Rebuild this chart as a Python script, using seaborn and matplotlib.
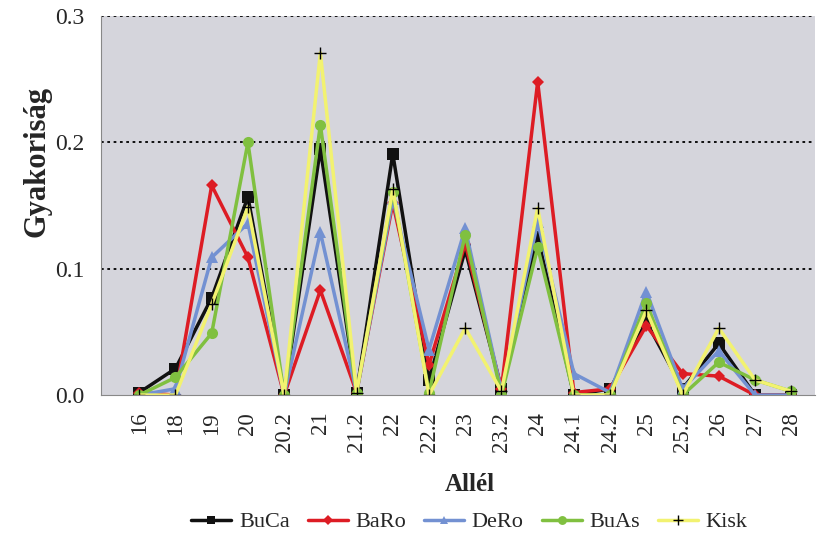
import pandas as pd
import matplotlib.pyplot as plt
import seaborn as sns

alleles = ['16', '18', '19', '20', '20.2', '21', '21.2', '22', '22.2', '23',
           '23.2', '24', '24.1', '24.2', '25', '25.2', '26', '27', '28']

buca = [0.002, 0.021, 0.077, 0.157, 0.0, 0.195, 0.002, 0.191, 0.012, 0.115,
        0.005, 0.125, 0.0, 0.005, 0.058, 0.005, 0.041, 0.0, 0.0]
baro = [0.002, 0.0, 0.166, 0.109, 0.0, 0.083, 0.002, 0.152, 0.024, 0.120,
        0.005, 0.248, 0.002, 0.005, 0.055, 0.017, 0.015, 0.0, 0.0]
dero = [0.0, 0.005, 0.109, 0.136, 0.0, 0.129, 0.002, 0.155, 0.036, 0.132,
        0.003, 0.137, 0.017, 0.002, 0.082, 0.005, 0.035, 0.0, 0.0]
buas = [0.0, 0.014, 0.049, 0.200, 0.0, 0.214, 0.002, 0.161, 0.002, 0.127,
        0.0, 0.117, 0.0, 0.0, 0.073, 0.0, 0.026, 0.012, 0.003]
kisk = [0.0, 0.0, 0.072, 0.149, 0.0, 0.271, 0.002, 0.163, 0.0, 0.053,
        0.003, 0.148, 0.0, 0.0, 0.067, 0.0, 0.053, 0.012, 0.003]

series = {'BuCa': buca, 'BaRo': baro, 'DeRo': dero, 'BuAs': buas, 'Kisk': kisk}
colors = {'BuCa': '#111111', 'BaRo': '#dd1c24', 'DeRo': '#7391d2',
          'BuAs': '#80c040', 'Kisk': '#f2f270'}
markers = {'BuCa': 's', 'BaRo': 'D', 'DeRo': '^', 'BuAs': 'o', 'Kisk': '+'}
sizes = {'BuCa': 8, 'BaRo': 6, 'DeRo': 8, 'BuAs': 8, 'Kisk': 9}

rows = []
for name, vals in series.items():
    for i, v in enumerate(vals):
        rows.append({'pos': i, 'Allél': alleles[i], 'Gyakoriság': v, 'pop': name})
df = pd.DataFrame(rows)

sns.set_style('white')
plt.rcParams['font.family'] = ['Liberation Serif', 'DejaVu Serif']

fig = plt.figure(figsize=(8.23, 5.39), dpi=100)
ax = fig.add_axes([0.123, 0.267, 0.867, 0.703])
ax.set_facecolor('#d5d5dc')

# one line per population
for name in series:
    sub = df[df['pop'] == name]
    sns.lineplot(data=sub, x='pos', y='Gyakoriság', ax=ax, color=colors[name],
                 marker=markers[name], markersize=sizes[name], linewidth=2.5,
                 markeredgewidth=1.0 if name == 'Kisk' else 0,
                 markeredgecolor='black' if name == 'Kisk' else colors[name],
                 label=name)

ax.set_xlim(-1.05, 18.65)
ax.set_ylim(0, 0.3)
ax.set_yticks([0.0, 0.1, 0.2, 0.3])
ax.set_yticklabels(['0.0', '0.1', '0.2', '0.3'], fontsize=17)
ax.set_xticks(range(len(alleles)))
ax.set_xticklabels(alleles, rotation=90, fontsize=16.5)
ax.tick_params(axis='x', direction='inout', length=12, pad=6, color='#888888', width=0.8)
ax.tick_params(axis='y', direction='out', length=7, pad=5, color='#888888', width=0.8)

for y in [0.1, 0.2, 0.3]:
    ax.axhline(y, color='black', linestyle=(0, (1.5, 2)), linewidth=1.3, zorder=0.5)

for s in ['top', 'right']:
    ax.spines[s].set_visible(False)
for s in ['left', 'bottom']:
    ax.spines[s].set_color('#888888')
    ax.spines[s].set_linewidth(0.8)

ax.set_xlabel('Allél', fontsize=18, fontweight='bold')
ax.xaxis.set_label_coords(0.516, -0.205)
ax.set_ylabel('Gyakoriság', fontsize=22, fontweight='bold')
ax.yaxis.set_label_coords(-0.07, 0.617)

ax.legend(loc='center', bbox_to_anchor=(0.516, -0.335), ncol=5, frameon=False,
          fontsize=16, handlelength=1.8, handletextpad=0.35, columnspacing=0.8,
          markerscale=0.8)

fig.savefig('out.png', dpi=100)
